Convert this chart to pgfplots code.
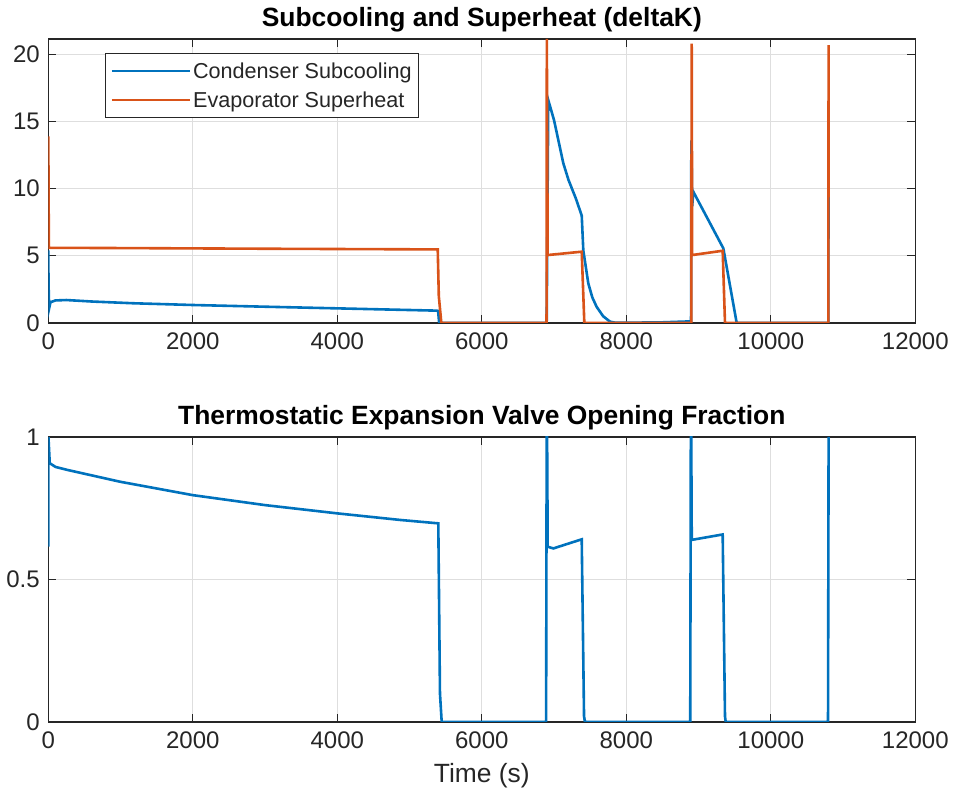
\documentclass[border=0pt]{standalone}
\usepackage{fontspec}
\setmainfont{Liberation Sans}
\usepackage{pgfplots}
\pgfplotsset{compat=1.18}

\definecolor{mblue}{rgb}{0,0.447,0.741}
\definecolor{morange}{rgb}{0.85,0.325,0.098}
\definecolor{axgray}{rgb}{0.15,0.15,0.15}

\pgfplotsset{mstyle/.style={
  scale only axis, width=867pt,
  xmin=0, xmax=12000,
  xtick={0,2000,...,12000},
  scaled x ticks=false,
  /pgf/number format/1000 sep={},
  /pgf/number format/assume math mode=true,
  grid=major, major grid style={color=black!13, line width=1pt},
  axis line style={axgray, line width=1.2pt},
  tick style={axgray, line width=1.2pt},
  tick align=inside, major tick length=8pt,
  ticklabel style={font=\fontsize{24}{28}\selectfont, text=axgray},
  xticklabel style={yshift=-6pt},
  yticklabel style={xshift=-5pt},
  title style={font=\bfseries\fontsize{26.4}{30}\selectfont, text=black, yshift=-3pt},
  label style={font=\fontsize{26.4}{30}\selectfont, text=axgray},
  xlabel style={yshift=-8pt},
  every axis plot/.append style={line width=2.6pt},
}}

\begin{document}
\begin{tikzpicture}

% top: subcooling and superheat
\begin{axis}[mstyle,
  at={(0pt,399pt)}, height=284pt,
  ymin=0, ymax=21.15, ytick={0,5,...,20},
  title={Subcooling and Superheat (deltaK)},
  legend style={at={(0.0654,0.951)}, anchor=north west, draw=axgray,
    line width=1pt, font=\fontsize{21.6}{26}\selectfont, text=axgray,
    cells={anchor=west}, inner xsep=5pt, inner ysep=7pt, row sep=8pt},
  legend image code/.code={\draw[#1, line width=2.6pt] (0pt,0pt) -- (78pt,0pt);},
]
\addplot[mblue] table {
0 5.4
3 3.0
12 1.1
30 1.55
100 1.68
250 1.71
600 1.6
1174 1.47
2000 1.34
3022 1.21
4000 1.09
5376 0.92
5395 0.9
5410 0
6898 0
6920 16.6
7000 15.1
7128 11.9
7200 10.65
7300 9.3
7383 8.0
7405 5.4
7474 2.95
7530 1.9
7590 1.2
7680 0.5
7775 0.1
7850 0.02
8000 0.02
8500 0.05
8882 0.12
8896 0.15
8900 13.6
8912 8.7
8927 9.78
9343 5.56
9528 0
10796 0
10800 13.9
};
\addlegendentry{Condenser Subcooling}
\addplot[morange] table {
0 13.9
8 5.6
1000 5.58
3000 5.53
5390 5.48
5405 2
5440 0
6896 0
6900 21.15
6912 5.06
7383 5.31
7419 0
8900 0
8905 20.8
8912 5.06
9334 5.38
9366 0
10796 0
10800 20.7
};
\addlegendentry{Evaporator Superheat}
\end{axis}

% bottom: valve opening
\begin{axis}[mstyle,
  at={(0pt,0pt)}, height=285pt,
  ymin=0, ymax=1, ytick={0,0.5,1},
  title={Thermostatic Expansion Valve Opening Fraction},
  xlabel={Time (s)},
]
\addplot[mblue] table {
0 0.615
2 1
20 0.908
100 0.895
255 0.885
994 0.843
2000 0.796
3000 0.761
4000 0.732
4868 0.709
5398 0.697
5421 0.1
5445 0
6890 0
6898 1
6904 1
6912 0.615
6990 0.609
7383 0.641
7415 0.02
7428 0
8885 0
8893 1
8899 1
8906 0.639
9334 0.658
9366 0.02
9376 0
10792 0
10800 1
};
\end{axis}

\pgfresetboundingbox
\path[use as bounding box] (-48.3pt,-78pt) rectangle (904.7pt,722pt);
\end{tikzpicture}
\end{document}
